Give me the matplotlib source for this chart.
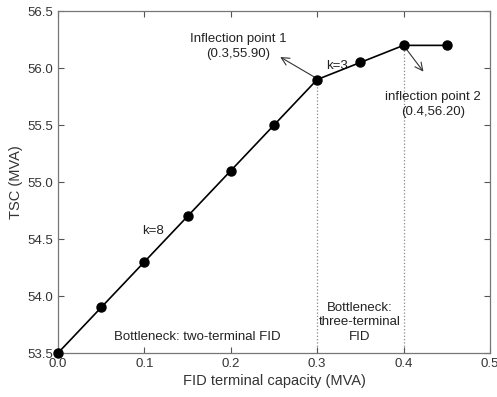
import matplotlib.pyplot as plt

plt.rcParams['font.family'] = ['Liberation Sans', 'DejaVu Sans']

# FID terminal capacity (MVA) and resulting TSC (MVA)
fid_cap = [0.0, 0.05, 0.10, 0.15, 0.20, 0.25, 0.30, 0.35, 0.40, 0.45]
tsc = [53.5, 53.9, 54.3, 54.7, 55.1, 55.5, 55.9, 56.05, 56.2, 56.2]

x_ticks = [0.0, 0.1, 0.2, 0.3, 0.4, 0.5]
x_labels = ['0.0', '0.1', '0.2', '0.3', '0.4', '0.5']
y_ticks = [53.5, 54.0, 54.5, 55.0, 55.5, 56.0, 56.5]
y_labels = ['53.5', '54.0', '54.5', '55.0', '55.5', '56.0', '56.5']

infl1 = (0.3, 55.9)
infl2 = (0.4, 56.2)

fig = plt.figure(figsize=(4.97, 3.97), dpi=100)
ax = fig.add_axes([0.1167, 0.1108, 0.869, 0.861])

ax.plot(fid_cap, tsc, '-o', color='black', lw=1.2, markersize=6.5, clip_on=False, zorder=5)

# dotted guides at the inflection points
for px, py in (infl1, infl2):
    ax.plot([px, px], [53.5, py], ':', color='#888888', lw=0.9, zorder=1)

ax.set_xlim(0, 0.5)
ax.set_ylim(53.5, 56.5)
ax.set_xticks(x_ticks)
ax.set_xticklabels(x_labels)
ax.set_yticks(y_ticks)
ax.set_yticklabels(y_labels)
ax.tick_params(direction='in', top=True, right=True, length=4, width=0.8,
               colors='#555555', labelsize=9.5, labelcolor='#333333')
for s in ax.spines.values():
    s.set_color('#777777')
    s.set_linewidth(0.9)

ax.set_xlabel('FID terminal capacity (MVA)', fontsize=10.5, color='#333333', labelpad=3)
ax.set_ylabel('TSC (MVA)', fontsize=10.5, color='#333333', labelpad=3)

tc = '#222222'
fs = 9.5
ax.text(0.2083, 56.19, 'Inflection point 1\n(0.3,55.90)',
        ha='center', va='center', fontsize=fs, color=tc, linespacing=1.35)
ax.annotate('', xy=(0.2545, 56.11), xytext=(0.2995, 55.91),
            arrowprops=dict(arrowstyle='->', color='#333333', lw=0.8, mutation_scale=14))
ax.annotate('', xy=(0.425, 55.95), xytext=(0.401, 56.19),
            arrowprops=dict(arrowstyle='->', color='#333333', lw=0.8, mutation_scale=14))
ax.text(0.4340, 55.68, 'inflection point 2\n(0.4,56.20)', ha='center', va='center',
        fontsize=fs, color=tc, linespacing=1.35)
ax.text(0.3230, 56.02, 'k=3', ha='center', va='center', fontsize=fs, color=tc)
ax.text(0.1100, 54.57, 'k=8', ha='center', va='center', fontsize=fs, color=tc)
ax.text(0.1609, 53.64, 'Bottleneck: two-terminal FID', ha='center', va='center',
        fontsize=fs, color=tc)
ax.text(0.3490, 53.77, 'Bottleneck:\nthree-terminal\nFID', ha='center', va='center',
        fontsize=fs, color=tc, linespacing=1.3)

fig.savefig('out.png', dpi=100)
